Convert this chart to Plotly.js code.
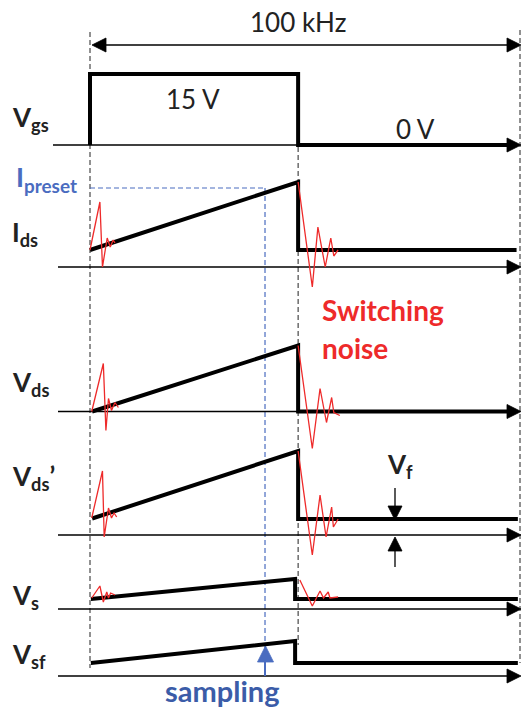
<!DOCTYPE html>
<html><head><meta charset="utf-8">
<script src="https://cdn.plot.ly/plotly-3.0.1.min.js"></script>
<style>html,body{margin:0;padding:0;background:#fff}</style>
</head><body><div id="chart" style="width:525px;height:708px"></div>
<script>
// ---- data (time in µs, one 100 kHz period = 10 µs; levels in arbitrary units above each channel axis)
const period = 10;
const tOff = 4.84;      // gate turn-off
const tOffS = 4.77;     // Vs / Vsf drop
const tSample = 4.07;   // sampling instant

const channelNames = ['V<sub>gs</sub>', 'I<sub>ds</sub>', 'V<sub>ds</sub>', 'V<sub>ds</sub>’', 'V<sub>s</sub>', 'V<sub>sf</sub>'];

const vgsT = [0, 0, tOff, tOff, 9.85];
const vgsV = [0, 71, 71, 0, 0];

const idsT = [0, tOff, tOff, 9.92];
const idsV = [17, 85, 17, 17];
const iPreset = 79;
const idsNoiseOnT = [0, 0.23, 0.29, 0.40, 0.47, 0.54, 0.58];
const idsNoiseOnV = [17, 65, 0, 29, 20, 27, 24];
const idsNoiseOffT = [4.84, 5.17, 5.30, 5.47, 5.60, 5.67, 5.77];
const idsNoiseOffV = [85, -20, 40, 0, 29, 11, 17];

const vdsT = [0.05, tOff, tOff, 9.85];
const vdsV = [0, 66, 0, 0];
const vdsNoiseOnT = [0.04, 0.31, 0.37, 0.43, 0.50, 0.58, 0.66];
const vdsNoiseOnV = [0, 48, -19, 13, 1, 9, 4];
const vdsNoiseOffT = [4.84, 5.17, 5.35, 5.50, 5.62, 5.67, 5.81];
const vdsNoiseOffV = [66, -37, 23, -11, 14, -1, -4];

const vdspT = [0.05, tOff, tOff, 9.95];
const vdspV = [16.5, 84, 16, 16];
const vdspNoiseOnT = [0.04, 0.29, 0.33, 0.43, 0.50, 0.56, 0.62];
const vdspNoiseOnV = [17, 64, -2, 27, 17, 22, 18];
const vdspNoiseOffT = [4.84, 5.17, 5.35, 5.49, 5.62, 5.66, 5.77];
const vdspNoiseOffV = [84, -20, 40, -2, 28, 8, 16];

const vsT = [0.02, tOffS, tOffS, 9.95];
const vsV = [10, 30, 10, 10];
const vsNoiseOnT = [0.04, 0.23, 0.31, 0.39, 0.43, 0.48, 0.58];
const vsNoiseOnV = [11, 23, 7, 17, 11, 16, 14];
const vsNoiseOffT = [4.88, 5.17, 5.35, 5.43, 5.54, 5.58, 5.77];
const vsNoiseOffV = [29, 3, 18, 11, 17, 11, 12];

const vsfT = [0.02, tOffS, tOffS, 9.95];
const vsfV = [13, 35, 13, 13];

// ---- layout helpers (positions only)
const W = 525, H = 708;
const T0PX = 90, T1PX = 520;
const pxPerT = (T1PX - T0PX) / period;
const xRange = [-T0PX / pxPerT, (W - T0PX) / pxPerT];
const tOfPx = px => (px - T0PX) / pxPerT;
const bases = [145, 267, 411.5, 535, 609, 676];   // pixel row of each channel axis
const axisStart = [53, 58, 58, 58, 58, 58];

const BLACK = '#000', RED = '#ee2a2a', BLUE = '#4a6cc0', BLUE2 = '#3b5ca8';
const FONT = 'Lato, "Open Sans", sans-serif';

const traces = [];
function thick(t, v, ax) { traces.push({x: t, y: v, yaxis: ax, mode: 'lines', line: {color: BLACK, width: 4}, hoverinfo: 'skip'}); }
function noise(t, v, ax) { traces.push({x: t, y: v, yaxis: ax, mode: 'lines', line: {color: RED, width: 1.3}, hoverinfo: 'skip'}); }

thick(vgsT, vgsV, 'y2');
thick(idsT, idsV, 'y3');
thick(vdsT, vdsV, 'y4');
thick(vdspT, vdspV, 'y5');
thick(vsT, vsV, 'y6');
thick(vsfT, vsfV, 'y7');
noise(idsNoiseOnT, idsNoiseOnV, 'y3'); noise(idsNoiseOffT, idsNoiseOffV, 'y3');
noise(vdsNoiseOnT, vdsNoiseOnV, 'y4'); noise(vdsNoiseOffT, vdsNoiseOffV, 'y4');
noise(vdspNoiseOnT, vdspNoiseOnV, 'y5'); noise(vdspNoiseOffT, vdspNoiseOffV, 'y5');
noise(vsNoiseOnT, vsNoiseOnV, 'y6'); noise(vsNoiseOffT, vsNoiseOffV, 'y6');

const layout = {
  width: W, height: H, margin: {l: 0, r: 0, t: 0, b: 0},
  paper_bgcolor: '#fff', plot_bgcolor: '#fff', showlegend: false,
  xaxis: {range: xRange, visible: false, fixedrange: true},
  yaxis: {range: [H, 0], visible: false, fixedrange: true},
  shapes: [], annotations: []
};
bases.forEach((b, i) => {
  layout['yaxis' + (i + 2)] = {range: [b - H, b], overlaying: 'y', visible: false, fixedrange: true};
});

// dashed timing guides
const vline = (t, y0, y1, color, w, d) => layout.shapes.push({type: 'line', layer: 'below', xref: 'x', yref: 'y', x0: t, x1: t, y0: y0, y1: y1, line: {color: color, width: w, dash: d || 'solid'}});
const hline = (t0, t1, y, color, w, d) => layout.shapes.push({type: 'line', layer: 'below', xref: 'x', yref: 'y', x0: t0, x1: t1, y0: y, y1: y, line: {color: color, width: w, dash: d || 'solid'}});
vline(0, 32, 668, '#222', 1, '5px,3px');
vline(period, 30, 663, '#222', 1, '5px,3px');
vline(tOff, 147, 645, '#222', 1, '5px,3px');
vline(tSample, bases[1] - iPreset, 650, BLUE, 1.2, '5px,3px');
layout.shapes.push({type: 'line', layer: 'below', xref: 'x', yref: 'y3', x0: 0, x1: tSample, y0: iPreset, y1: iPreset, line: {color: BLUE, width: 1.2, dash: '5px,3px'}});

// arrow shafts
bases.forEach((b, i) => hline(tOfPx(axisStart[i]), tOfPx(T1PX - 6), b, BLACK, 1.3));
hline(tOfPx(99), tOfPx(T1PX - 6), 45, BLACK, 1.3);
vline(tOfPx(395), 488, 510, BLACK, 1.3);
vline(tOfPx(395), 545, 567, BLACK, 1.3);
vline(tSample, 655, 676, BLUE, 2);

// arrowheads (arrow-* symbols put the tip on the point)
const heads = {x: [], y: [], sym: [], col: [], size: []};
function head(tipPx, tipPy, dir, col, size) {
  heads.x.push(tOfPx(tipPx)); heads.y.push(tipPy); heads.sym.push('arrow-' + dir); heads.col.push(col); heads.size.push(size);
}
bases.forEach(b => head(T1PX + 1, b, 'right', BLACK, 14));
head(T1PX + 1, 45, 'right', BLACK, 14);
head(92, 45, 'left', BLACK, 14);
head(395, bases[3] - vdspV[3] + 1, 'down', BLACK, 14);
head(395, bases[3] + 2, 'up', BLACK, 14);
head(265.5, 646, 'up', BLUE, 16);
traces.push({x: heads.x, y: heads.y, yaxis: 'y', mode: 'markers', hoverinfo: 'skip', opacity: 1,
  marker: {symbol: heads.sym, size: heads.size, color: heads.col, opacity: 1, line: {width: 0.8, color: heads.col}}});

// texts
function txt(text, px, py, size, color, xanchor) {
  layout.annotations.push({xref: 'paper', yref: 'y', x: px / W, y: py, text: text, showarrow: false,
    xanchor: xanchor || 'center', yanchor: 'middle', font: {family: FONT, size: size, color: color}});
}
txt('100 kHz', 298, 22, 26, '#222');
txt('15 V', 193, 99, 26, '#222');
txt('0 V', 415, 129, 26, '#222');
const labelY = [118, 233, 383, 477, 596, 655];
channelNames.forEach((n, i) => txt('<b>' + n + '</b>', 10, labelY[i], 26, '#222', 'left'));
txt('<b>I<sub>preset</sub></b>', 14, 178, 27, BLUE, 'left');
txt('<b>Switching</b>', 320, 310, 28, RED, 'left');
txt('<b>noise</b>', 320, 348, 28, RED, 'left');
txt('<b>V<sub>f</sub></b>', 385, 465, 26, '#222', 'left');
txt('<b>sampling</b>', 222, 690, 29, BLUE2);

Plotly.newPlot('chart', traces, layout, {staticPlot: true});
</script></body></html>
